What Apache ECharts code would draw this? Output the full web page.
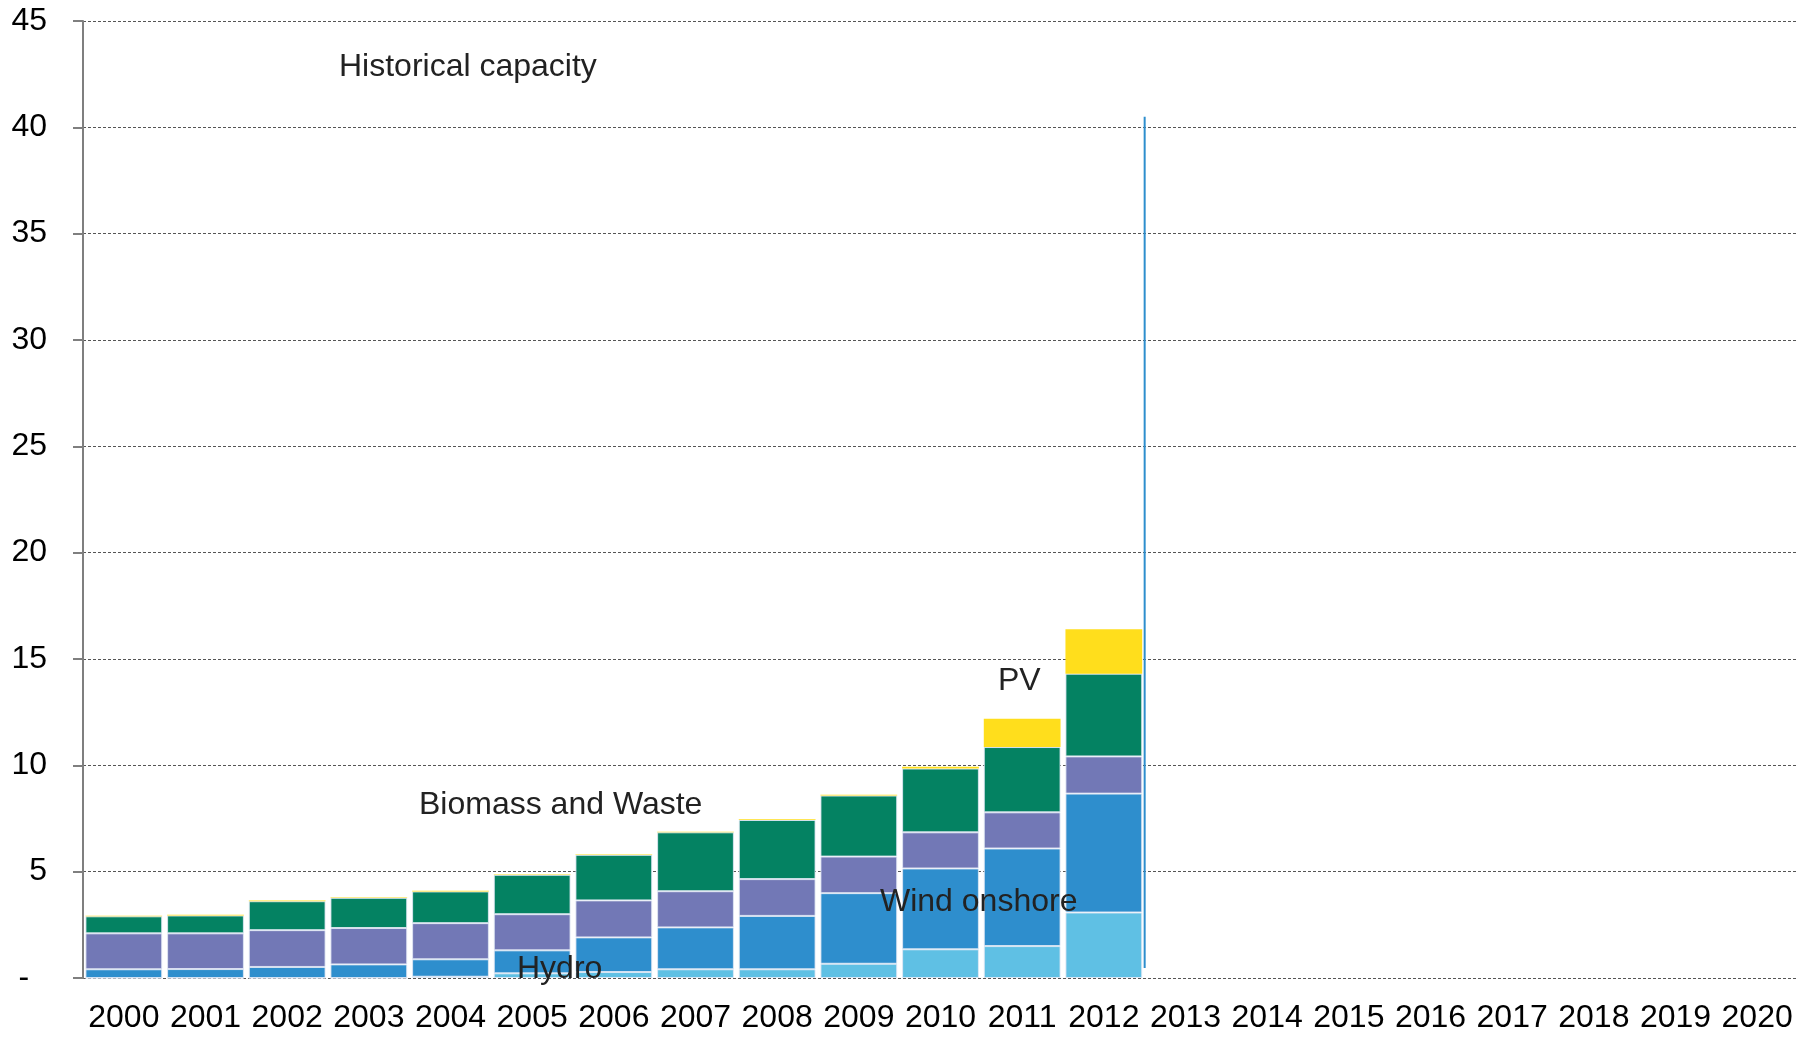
<!DOCTYPE html>
<html>
<head>
<meta charset="utf-8">
<script src="https://cdn.jsdelivr.net/npm/echarts@6/dist/echarts.min.js"></script>
<style>
html,body{margin:0;padding:0;background:#fff;}
#chart{width:1807px;height:1038px;}
</style>
</head>
<body>
<div id="chart"></div>
<script>
// ---- data ----
var years = ['2000','2001','2002','2003','2004','2005','2006','2007','2008','2009','2010',
             '2011','2012','2013','2014','2015','2016','2017','2018','2019','2020'];
var windOffshore = [0, 0, 0, 0, 0.06, 0.22, 0.28, 0.41, 0.41, 0.67, 1.35, 1.50, 3.08];
var windOnshore  = [0.41, 0.42, 0.52, 0.64, 0.82, 1.08, 1.63, 1.97, 2.51, 3.32, 3.80, 4.59, 5.59];
var hydro        = [1.69, 1.68, 1.73, 1.71, 1.70, 1.70, 1.74, 1.70, 1.73, 1.72, 1.70, 1.70, 1.75];
var biomass      = [0.80, 0.84, 1.36, 1.42, 1.49, 1.85, 2.14, 2.77, 2.78, 2.87, 3.00, 3.07, 3.89];
var pv           = [0.03, 0.03, 0.03, 0.03, 0.03, 0.03, 0.03, 0.03, 0.03, 0.04, 0.08, 1.33, 2.09];
var yTicks = [0, 5, 10, 15, 20, 25, 30, 35, 40, 45];
// historical / projection divider (position on a 0..21 category scale, capacity extent)
var dividerLine = [[13, 40.5], [13, 0.47]];

var annotations = [
  {text: 'Historical capacity', x: 339, y: 67},
  {text: 'Biomass and Waste',   x: 419, y: 805},
  {text: 'PV',                  x: 998, y: 681},
  {text: 'Wind onshore',        x: 880, y: 902},
  {text: 'Hydro',               x: 517, y: 969}
];

var FONT = '"Liberation Sans", Arial, sans-serif';
var colors = {
  off: '#5fc0e4', on: '#2e8ecd', hydro: '#7278b6', bio: '#048262', pv: '#ffde1c'
};

function barSeries(name, data, color, bw) {
  return {
    name: name, type: 'bar', stack: 'cap', data: data,
    xAxisIndex: 0, yAxisIndex: 0,
    barCategoryGap: '6%',
    itemStyle: {color: color, borderColor: 'rgba(225,232,245,0.85)', borderWidth: bw},
    emphasis: {disabled: true},
    silent: true
  };
}

var chart = echarts.init(document.getElementById('chart'), null, {renderer: 'canvas'});
var option = {
  animation: false,
  backgroundColor: '#ffffff',
  grid: {left: 83, right: 9, top: 21, bottom: 60, containLabel: false},
  xAxis: [{
    type: 'category', data: years,
    axisLine: {show: false}, axisTick: {show: false},
    axisLabel: {color: '#000', fontFamily: FONT, fontSize: 32, margin: 24, interval: 0},
    splitLine: {show: false}
  }, {
    type: 'value', min: 0, max: 21, show: false
  }],
  yAxis: {
    type: 'value', min: 0, max: 45, interval: 5,
    axisLine: {show: true, lineStyle: {color: '#7f7f7f', width: 2}},
    axisTick: {show: true, inside: false, length: 10, lineStyle: {color: '#7f7f7f', width: 2}},
    axisLabel: {
      color: '#000', fontFamily: FONT, fontSize: 32, margin: 36,
      formatter: function (v) { return v === 0 ? '-\u00a0\u00a0' : String(v); }
    },
    splitLine: {show: true, lineStyle: {color: '#555', width: 1, type: [3, 2]}}
  },
  series: [
    barSeries('Wind offshore', windOffshore, colors.off, 1),
    barSeries('Wind onshore', windOnshore, colors.on, 1),
    barSeries('Hydro', hydro, colors.hydro, 1),
    barSeries('Biomass and Waste', biomass, colors.bio, 1),
    barSeries('PV', pv, colors.pv, 0),
    {
      name: 'divider', type: 'line', xAxisIndex: 1, yAxisIndex: 0,
      data: dividerLine, symbol: 'none', silent: true,
      lineStyle: {color: '#2e8ecd', width: 2}
    }
  ],
  graphic: annotations.map(function (a) {
    return {
      type: 'text', x: a.x, y: a.y, silent: true, z: 100, zlevel: 0,
      style: {text: a.text, fill: '#222', font: '32px ' + FONT, verticalAlign: 'middle', align: 'left'}
    };
  })
};
chart.setOption(option);
</script>
</body>
</html>
